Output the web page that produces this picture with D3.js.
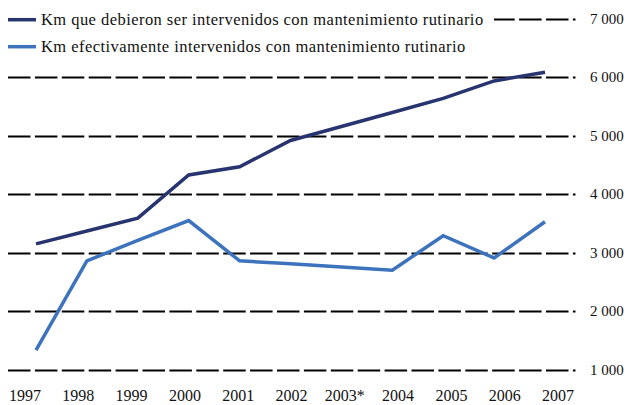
<!DOCTYPE html>
<html>
<head>
<meta charset="utf-8">
<script src="https://cdn.jsdelivr.net/npm/d3@7"></script>
</head>
<body style="margin:0">
<script>
// chart data
var years = ["1997", "1998", "1999", "2000", "2001", "2002", "2003", "2004", "2005", "2006", "2007"];
var yearLabels = ["1997", "1998", "1999", "2000", "2001", "2002", "2003*", "2004", "2005", "2006", "2007"];
var kmDebieron = [3150, 3370, 3590, 4330, 4470, 4920, 5160, 5400, 5640, 5940, 6090];
var kmEfectivos = [1330, 2860, 3210, 3550, 2860, 2810, 2755, 2700, 3290, 2910, 3530];
var yTicks = [1000, 2000, 3000, 4000, 5000, 6000, 7000];
var seriesNames = [
  "Km que debieron ser intervenidos con mantenimiento rutinario",
  "Km efectivamente intervenidos con mantenimiento rutinario"
];
var colors = ["#27346f", "#3d73bc"];

var width = 630, height = 405;
var svg = d3.select("body").append("svg")
  .attr("width", width)
  .attr("height", height);

// scales
var x = d3.scalePoint().domain(years).range([36, 545]);
var xLab = d3.scalePoint().domain(yearLabels).range([25, 558]);
var y = d3.scaleLinear().domain([1000, 7000]).range([369.5, 19]);
var fmt = d3.formatLocale({ decimal: ",", thousands: " ", grouping: [3], currency: ["", ""] }).format(",d");

// dashed gridlines
svg.append("g").selectAll("line")
  .data(yTicks)
  .join("line")
  .attr("x1", 8)
  .attr("x2", 575.5)
  .attr("y1", function(d) { return Math.round(y(d)) + 0.5; })
  .attr("y2", function(d) { return Math.round(y(d)) + 0.5; })
  .attr("stroke", "#000")
  .attr("stroke-width", 2)
  .attr("stroke-dasharray", "22.5,4.4");

// right tick labels
svg.append("g").selectAll("text")
  .data(yTicks)
  .join("text")
  .attr("x", 590)
  .attr("y", function(d) { return y(d) + 5; })
  .style("font-family", "Liberation Serif")
  .style("font-size", "15px")
  .style("fill", "#111")
  .text(function(d) { return fmt(d); });

// bottom year labels
svg.append("g").selectAll("text")
  .data(yearLabels)
  .join("text")
  .attr("x", function(d) { return xLab(d); })
  .attr("y", 400.5)
  .attr("text-anchor", "middle")
  .style("font-family", "Liberation Serif")
  .style("font-size", "16px")
  .style("fill", "#111")
  .text(function(d) { return d; });

// lines
var line = d3.line()
  .x(function(d, i) { return x(years[i]); })
  .y(function(d) { return y(d); });

[kmDebieron, kmEfectivos].forEach(function(s, i) {
  svg.append("path")
    .datum(s)
    .attr("d", line)
    .attr("fill", "none")
    .attr("stroke", colors[i])
    .attr("stroke-width", 3.5)
    .attr("stroke-linejoin", "miter");
});

// legend (white box hides gridline under it)
var legend = svg.append("g");
legend.append("rect")
  .attr("x", 0).attr("y", 0)
  .attr("width", 494).attr("height", 58)
  .attr("fill", "#fff");
seriesNames.forEach(function(name, i) {
  var ly = 19.7 + i * 27;
  legend.append("line")
    .attr("x1", 8).attr("x2", 36)
    .attr("y1", ly).attr("y2", ly)
    .attr("stroke", colors[i])
    .attr("stroke-width", 3.5);
  legend.append("text")
    .attr("x", 41)
    .attr("y", ly + 5.5)
    .style("font-family", "Liberation Serif")
    .style("font-size", "16.5px")
    .style("letter-spacing", "0.45px")
    .style("fill", "#111")
    .text(name);
});
</script>
</body>
</html>
